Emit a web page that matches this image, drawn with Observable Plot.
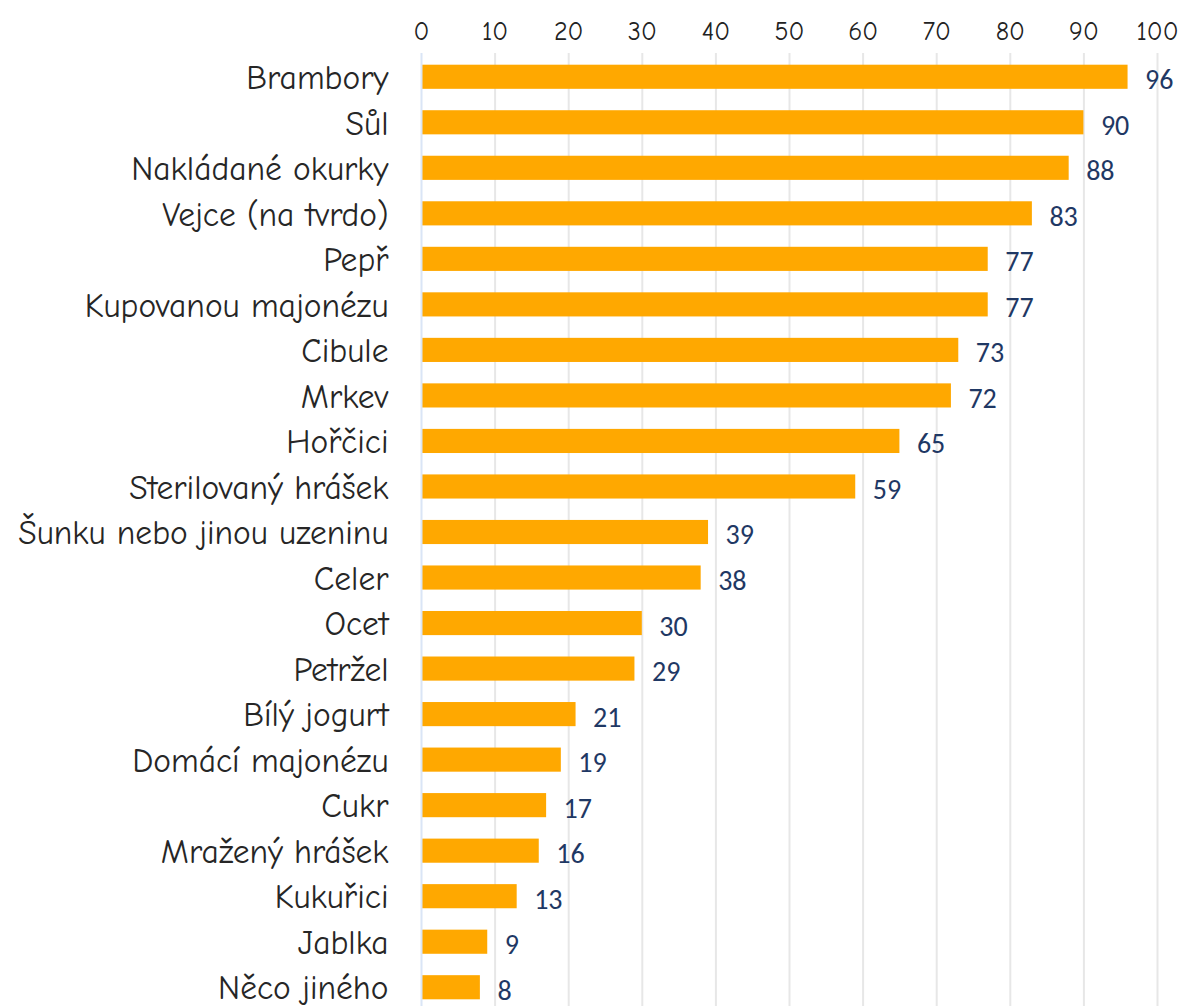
<!DOCTYPE html>
<html>
<head>
<meta charset="utf-8">
<script src="https://cdn.jsdelivr.net/npm/d3@7"></script>
<script src="https://cdn.jsdelivr.net/npm/@observablehq/plot@0.6"></script>
<style>
  html, body { margin: 0; padding: 0; background: #fff; }
  #chart svg { display: block; }
</style>
</head>
<body>
<div id="chart"></div>
<script>
const categories = [
  "Brambory", "Sůl", "Nakládané okurky", "Vejce (na tvrdo)", "Pepř",
  "Kupovanou majonézu", "Cibule", "Mrkev", "Hořčici", "Sterilovaný hrášek",
  "Šunku nebo jinou uzeninu", "Celer", "Ocet", "Petržel", "Bílý jogurt",
  "Domácí majonézu", "Cukr", "Mražený hrášek", "Kukuřici", "Jablka", "Něco jiného"
];
const values = [96, 90, 88, 83, 77, 77, 73, 72, 65, 59, 39, 38, 30, 29, 21, 19, 17, 16, 13, 9, 8];
const tickValues = [0, 10, 20, 30, 40, 50, 60, 70, 80, 90, 100];

const data = categories.map((c, i) => ({category: c, value: values[i]}));
const font = "'Comic Sans MS', 'Comic Neue', 'Noto Sans', 'DejaVu Sans', sans-serif";

const chart = Plot.plot({
  width: 1199,
  height: 1010,
  marginLeft: 421,
  marginRight: 42,
  marginTop: 54,
  marginBottom: 0,
  style: {fontFamily: font, background: "#fff"},
  x: {domain: [0, 100], axis: null, label: null},
  y: {domain: categories, paddingInner: 0.47, paddingOuter: 0.235, round: false, axis: null},
  marks: [
    Plot.ruleX(tickValues.filter(d => d > 0), {stroke: "#e7e7e7", strokeWidth: 2, insetTop: -1}),
    Plot.barX(data, {y: "category", x: "value", fill: "#FFA800"}),
    Plot.ruleX([0], {stroke: "#dae5f6", strokeWidth: 2, insetTop: -1}),
    Plot.text(tickValues, {x: d => d, text: d => String(d), frameAnchor: "top", dy: -33, fontSize: 26, fill: "#222", fontFamily: font}),
    Plot.text(data, {y: "category", text: "category", frameAnchor: "left", textAnchor: "end", dx: -33, dy: 1, fontSize: 33.5, fill: "#262626", fontFamily: font}),
    Plot.text(data, {y: "category", x: "value", text: d => String(d.value), textAnchor: "start", dx: 17, dy: 3, fontSize: 28, fill: "#1f3864", fontFamily: "'Carlito', 'Open Sans', sans-serif"})
  ]
});
document.getElementById("chart").appendChild(chart);
</script>
</body>
</html>
